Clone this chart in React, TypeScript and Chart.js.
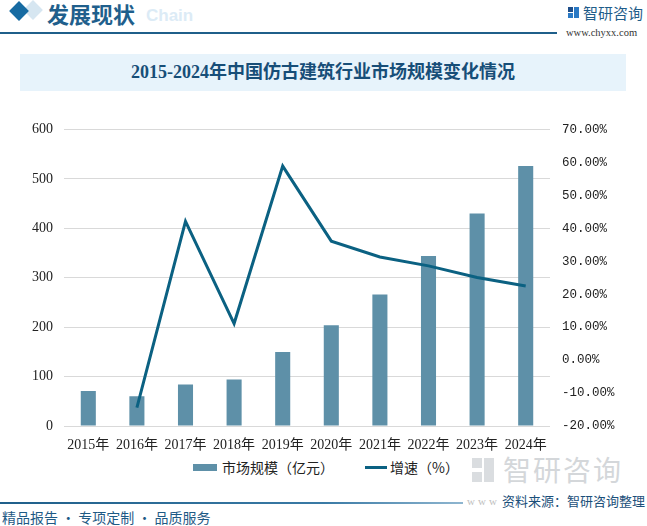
import React, { useEffect, useRef } from "react";
import { Chart, registerables } from "chart.js";

Chart.register(...registerables);

const years = ["2015年", "2016年", "2017年", "2018年", "2019年", "2020年", "2021年", "2022年", "2023年", "2024年"];
const marketSize = [71, 60, 84, 94, 150, 204, 266, 344, 430, 526];
const growthRate = [null, -14.4, 42.1, 11.1, 58.9, 36.1, 31.3, 28.6, 25.1, 22.5];
const leftMin = 0;
const leftMax = 600;
const leftStep = 100;
const rightMin = -20;
const rightMax = 70;
const rightStep = 10;

const title = "2015-2024年中国仿古建筑行业市场规模变化情况";
const barLabel = "市场规模（亿元）";
const lineLabel = "增速（%）";

const BAR_COLOR = "#5e90a8";
const LINE_COLOR = "#0b6182";

export default function App() {
  const ref = useRef<HTMLCanvasElement | null>(null);

  useEffect(() => {
    if (!ref.current) return;
    const chart = new Chart(ref.current, {
      type: "bar",
      data: {
        labels: years,
        datasets: [
          {
            type: "line",
            label: lineLabel,
            data: growthRate as any,
            yAxisID: "y1",
            borderColor: LINE_COLOR,
            backgroundColor: LINE_COLOR,
            borderWidth: 3,
            pointRadius: 0,
            tension: 0,
            order: 0,
          } as any,
          {
            type: "bar",
            label: barLabel,
            data: marketSize,
            yAxisID: "y",
            backgroundColor: BAR_COLOR,
            categoryPercentage: 1,
            barPercentage: 0.31,
            order: 1,
          } as any,
        ],
      },
      options: {
        animation: false,
        responsive: false,
        maintainAspectRatio: false,
        layout: { padding: { top: 17, left: 0, right: 0, bottom: 0 } },
        plugins: { legend: { display: false }, tooltip: { enabled: false } },
        scales: {
          x: {
            grid: { display: false, drawTicks: false },
            border: { display: false },
            ticks: {
              padding: 11,
              color: "#222",
              font: { family: "'Liberation Serif', 'Noto Sans CJK SC', serif", size: 14 },
              maxRotation: 0,
              autoSkip: false,
            },
            afterFit: (s: any) => {
              s.height = 29;
            },
          },
          y: {
            position: "left",
            min: leftMin,
            max: leftMax,
            ticks: {
              stepSize: leftStep,
              padding: 11,
              color: "#222",
              font: { family: "'Liberation Serif', serif", size: 14 },
            },
            grid: { color: "#d9d9d9", drawTicks: false, lineWidth: 1 },
            border: { display: false },
            afterFit: (s: any) => {
              s.width = 64;
            },
          },
          y1: {
            position: "right",
            min: rightMin,
            max: rightMax,
            ticks: {
              stepSize: rightStep,
              padding: 12,
              color: "#222",
              font: { family: "'Liberation Mono', monospace", size: 12.5 },
              callback: (v: any) => Number(v).toFixed(2) + "%",
            },
            grid: { display: false, drawTicks: false },
            border: { display: false },
            afterFit: (s: any) => {
              s.width = 97;
            },
          },
        },
      },
    });
    return () => chart.destroy();
  }, []);

  const abs = (o: React.CSSProperties): React.CSSProperties => ({ position: "absolute", whiteSpace: "nowrap", ...o });

  return (
    <div style={abs({ left: 0, top: 0, width: 647, height: 526, background: "#fff", overflow: "hidden", fontFamily: "'Noto Sans CJK SC', sans-serif" })}>
      {/* header */}
      <div style={abs({ left: 26, top: 3, width: 14, height: 14, background: "#d6e6f1", transform: "rotate(45deg)" })} />
      <div style={abs({ left: 12, top: 4, width: 14, height: 14, background: "#176ba2", transform: "rotate(45deg)" })} />
      <div style={abs({ left: 146, top: 6, fontFamily: "Arial, 'Liberation Sans', sans-serif", fontWeight: 700, fontSize: 17, color: "#dcebf6", lineHeight: "20px" })}>Chain</div>
      <div style={abs({ left: 47, top: 0, fontWeight: 700, fontSize: 22, color: "#1f5f8c", lineHeight: "26px", letterSpacing: 0 })}>发展现状</div>
      <div style={abs({ left: 0, top: 32, width: 557, height: 2, background: "#1f5f8a" })} />
      {/* logo */}
      <div style={abs({ left: 568, top: 7, width: 5, height: 5, background: "#1f4f8a" })} />
      <div style={abs({ left: 574, top: 7, width: 5, height: 11, background: "#2a79c4" })} />
      <div style={abs({ left: 568, top: 13, width: 5, height: 5, background: "#2a79c4" })} />
      <div style={abs({ left: 583, top: 3, fontSize: 15, color: "#1f5d8a", lineHeight: "20px" })}>智研咨询</div>
      <div style={abs({ left: 566, top: 27, fontFamily: "'Liberation Serif', serif", fontSize: 10.5, color: "#333", lineHeight: "12px" })}>www.chyxx.com</div>
      {/* title band */}
      <div style={abs({ left: 20, top: 54, width: 606, height: 37, background: "#e7f3fb" })} />
      <div style={abs({ left: 20, top: 54, width: 606, height: 37, lineHeight: "37px", textAlign: "center", fontFamily: "'Liberation Serif', 'Noto Sans CJK SC', serif", fontWeight: 700, fontSize: 18, color: "#174e78" })}>{title}</div>
      {/* watermark logo bottom right */}
      <div style={abs({ left: 472, top: 458, width: 10, height: 10, background: "#dadde0" })} />
      <div style={abs({ left: 484, top: 458, width: 10, height: 24, background: "#dadde0" })} />
      <div style={abs({ left: 472, top: 472, width: 10, height: 10, background: "#dadde0" })} />
      <div style={abs({ left: 503, top: 450, fontSize: 28, color: "#d4d7da", lineHeight: "38px", letterSpacing: 2 })}>智研咨询</div>
      {/* chart */}
      <canvas ref={ref} width={647} height={345} style={abs({ left: 0, top: 110, width: 647, height: 345 })} />
      {/* legend */}
      <div style={abs({ left: 193, top: 464, width: 24, height: 7, background: BAR_COLOR })} />
      <div style={abs({ left: 222, top: 457, fontSize: 14, color: "#222", lineHeight: "20px" })}>{barLabel}</div>
      <div style={abs({ left: 365, top: 466, width: 22, height: 3, background: LINE_COLOR })} />
      <div style={abs({ left: 390, top: 457, fontSize: 14, color: "#222", lineHeight: "20px" })}>{lineLabel}</div>
      {/* footer */}
      <div style={abs({ left: 0, top: 502, width: 463, height: 2, background: "linear-gradient(90deg, #1f5f8a 0%, #3a7aa5 70%, #8fb6d0 100%)" })} />
      <div style={abs({ left: 467, top: 494, fontFamily: "'Liberation Serif', serif", fontSize: 11, color: "#c0c0c0", lineHeight: "14px", letterSpacing: 3 })}>www</div>
      <div style={abs({ left: 502, top: 492, fontSize: 13, color: "#1b4f7a", lineHeight: "18px" })}>资料来源：智研咨询整理</div>
      <div style={abs({ left: 2, top: 507, fontSize: 14, color: "#1e5a85", lineHeight: "20px" })}>精品报告 · 专项定制 · 品质服务</div>
    </div>
  );
}
